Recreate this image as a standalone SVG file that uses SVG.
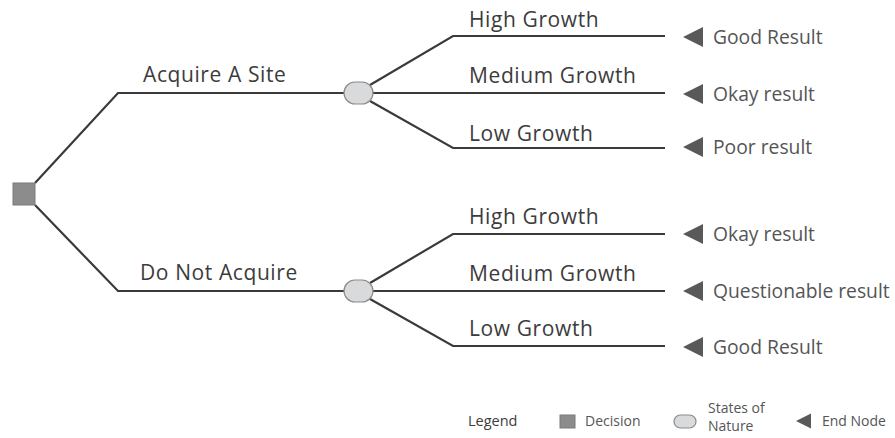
<svg xmlns="http://www.w3.org/2000/svg" width="895" height="438" viewBox="0 0 895 438">
<defs>
<style>
.ln{fill:none;stroke:#3a3a3a;stroke-width:2.2;stroke-linejoin:miter}
.dec{fill:#8c8c8c;stroke:#7a7a7a;stroke-width:1}
.chance{fill:#d9dadc;stroke:#8a8a8a;stroke-width:1.2}
.end{fill:#595959}
.lbl{font-family:"Open Sans","Noto Sans",sans-serif;font-size:21px;letter-spacing:0.6px;fill:#3c3c3c}
.res{font-family:"Open Sans","Noto Sans",sans-serif;font-size:19.3px;fill:#555}
.leg{font-family:"Open Sans","Noto Sans",sans-serif;font-size:14px;fill:#555}
.legt{font-family:"Open Sans","Noto Sans",sans-serif;font-size:14.5px;fill:#3c3c3c}
</style>
<polygon id="tri" points="0,0 20,-10 20,10"/>
</defs>
<g id="connectors">
<path class="ln" d="M35,183 L118,93 L345,93"/>
<path class="ln" d="M35,205 L118,291 L345,291"/>
<path class="ln" d="M370,85 L453,36 L665,36"/>
<path class="ln" d="M372,93 L665,93"/>
<path class="ln" d="M370,101 L453,148 L665,148"/>
<path class="ln" d="M370,283 L453,234 L665,234"/>
<path class="ln" d="M372,291 L665,291"/>
<path class="ln" d="M370,299 L453,346 L665,346"/>
</g>
<g id="decision"><rect class="dec" x="13" y="183" width="22" height="22"/></g>
<g id="chance1"><rect class="chance" x="344" y="82" width="29" height="22" rx="11" ry="11"/></g>
<g id="chance2"><rect class="chance" x="344" y="280" width="29" height="22" rx="11" ry="11"/></g>
<g id="label-acquire"><text class="lbl" x="143" y="82">Acquire A Site</text></g>
<g id="label-notacquire"><text class="lbl" x="140" y="280">Do Not Acquire</text></g>
<g id="label-h1"><text class="lbl" x="469" y="27">High Growth</text></g>
<g id="label-m1"><text class="lbl" x="469" y="83">Medium Growth</text></g>
<g id="label-l1"><text class="lbl" x="469" y="141">Low Growth</text></g>
<g id="label-h2"><text class="lbl" x="469" y="224">High Growth</text></g>
<g id="label-m2"><text class="lbl" x="469" y="281">Medium Growth</text></g>
<g id="label-l2"><text class="lbl" x="469" y="336">Low Growth</text></g>
<g id="end1"><use href="#tri" class="end" x="683" y="37"/><text class="res" x="713" y="44">Good Result</text></g>
<g id="end2"><use href="#tri" class="end" x="683" y="94"/><text class="res" x="713" y="101">Okay result</text></g>
<g id="end3"><use href="#tri" class="end" x="683" y="147"/><text class="res" x="713" y="154">Poor result</text></g>
<g id="end4"><use href="#tri" class="end" x="683" y="234"/><text class="res" x="713" y="241">Okay result</text></g>
<g id="end5"><use href="#tri" class="end" x="683" y="291"/><text class="res" x="713" y="298">Questionable result</text></g>
<g id="end6"><use href="#tri" class="end" x="683" y="347"/><text class="res" x="713" y="354">Good Result</text></g>
<g id="legend">
<text class="legt" x="468" y="426">Legend</text>
<rect class="dec" x="560" y="415" width="15" height="13"/>
<text class="leg" x="585" y="426">Decision</text>
<rect class="chance" x="674" y="415" width="22" height="13" rx="6.5" ry="6.5"/>
<text class="leg" x="708" y="413">States of</text>
<text class="leg" x="708" y="431">Nature</text>
<polygon class="end" points="796,421 811,413.5 811,428.5"/>
<text class="leg" x="822" y="426">End Node</text>
</g>
</svg>
